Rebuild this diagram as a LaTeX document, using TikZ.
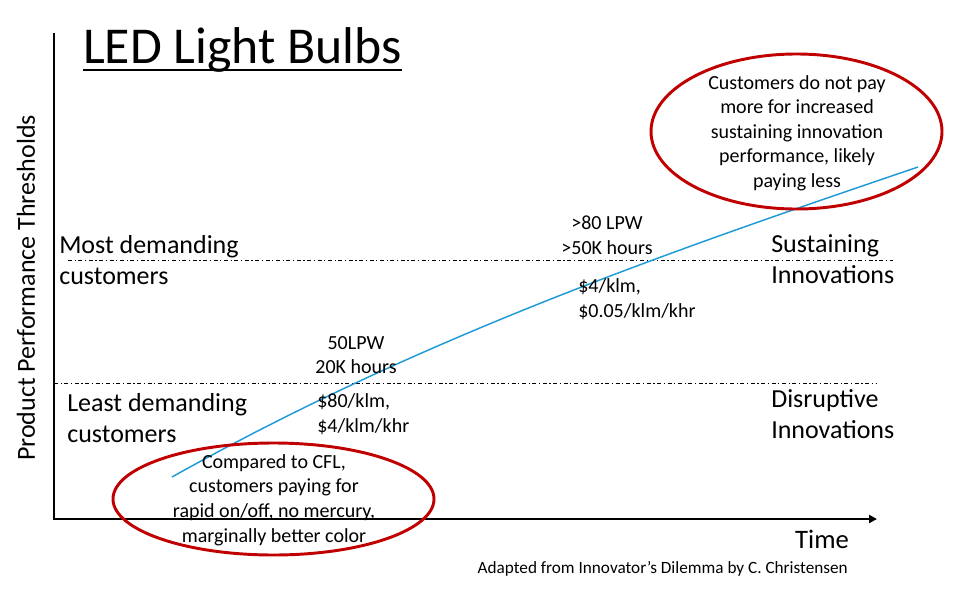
\documentclass[tikz,border=0pt]{standalone}
\usepackage{fontspec}
\setmainfont{Carlito}
\usetikzlibrary{arrows.meta,calc,positioning}
\definecolor{trendblue}{RGB}{30,155,215}
\definecolor{noteRed}{RGB}{192,0,0}

\begin{document}
\begin{tikzpicture}[x=0.75pt,y=-0.75pt,inner sep=0pt,
    big/.style={font=\fontsize{19.5}{23.3}\selectfont,align=left,anchor=west},
    small/.style={font=\fontsize{15}{18.4}\selectfont},
    threshold/.style={line width=0.75pt,dash pattern=on 3pt off 2pt on 0.8pt off 2pt},
    note/.style={draw=noteRed,line width=2.2pt}]
    \useasboundingbox (0,0) rectangle (977,589);
    % axes
    \coordinate (y_top) at (54,33);
    \coordinate (o) at (54,519);
    \coordinate (x_end) at (877,519);
    \draw[line width=1.5pt,-{Triangle[length=6pt,width=6pt]}] (y_top) -- (o) -- (x_end);
    \node[rotate=90,font=\fontsize{19.5}{23}\selectfont] (y_lbl) at (26,288) {Product Performance Thresholds};
    \node[anchor=base,font=\fontsize{20}{24}\selectfont] (time) at (822,548) {Time};
    \node[anchor=base east,font=\fontsize{12.9}{15}\selectfont] (src) at (848,573) {Adapted from Innovator’s Dilemma by C. Christensen};
    % title
    \node[anchor=base west,font=\fontsize{38.8}{46}\selectfont] (title) at (83,63) {LED Light Bulbs};
    \draw[line width=2pt] ($(title.base west)+(0,7)$) -- ($(title.base east)+(0,7)$);
    % thresholds
    \coordinate (hi_l) at (68,260);
    \coordinate (hi_r) at (893,260);
    \coordinate (lo_l) at (54,383);
    \coordinate (lo_r) at (877,383);
    \draw[threshold] (hi_l) -- (hi_r);
    \draw[threshold] (lo_l) -- (lo_r);
    \node[big] (most) at (59,260.5) {Most demanding\\customers};
    \node[big] (least) at (67,418) {Least demanding\\customers};
    \node[big] (sus) at (771,259) {Sustaining\\Innovations};
    \node[big] (dis) at (771,414.5) {Disruptive\\Innovations};
    % trend
    \coordinate (t_0) at (172,477);
    \coordinate (t_1) at (918,167);
    \draw[trendblue,line width=1.1pt] (t_0) .. controls (422,337) and (668,252) .. (t_1);
    \node[small,align=center] (lpw_50) at (356,355) {50LPW\\20K hours};
    \node[small,align=left,anchor=west] (cost_80) at (317,414) {\$80/klm,\\\$4/klm/khr};
    \node[small,align=center] (lpw_80) at (607,235) {>80 LPW\\>50K hours};
    \node[small,align=left,anchor=west] (cost_4) at (578,299) {\$4/klm,\\\$0.05/klm/khr};
    % callouts
    \node[small,align=center] (note_hi) at (797,133) {Customers do not pay\\more for increased\\sustaining innovation\\performance, likely\\paying less};
    \draw[note] (796.5,131.5) ellipse [x radius=145.5, y radius=77.5];
    \node[small,align=center] (note_lo) at (274,500) {Compared to CFL,\\customers paying for\\rapid on/off, no mercury,\\marginally better color};
    \draw[note] (273.5,499) ellipse [x radius=160.5, y radius=56];
\end{tikzpicture}
\end{document}
